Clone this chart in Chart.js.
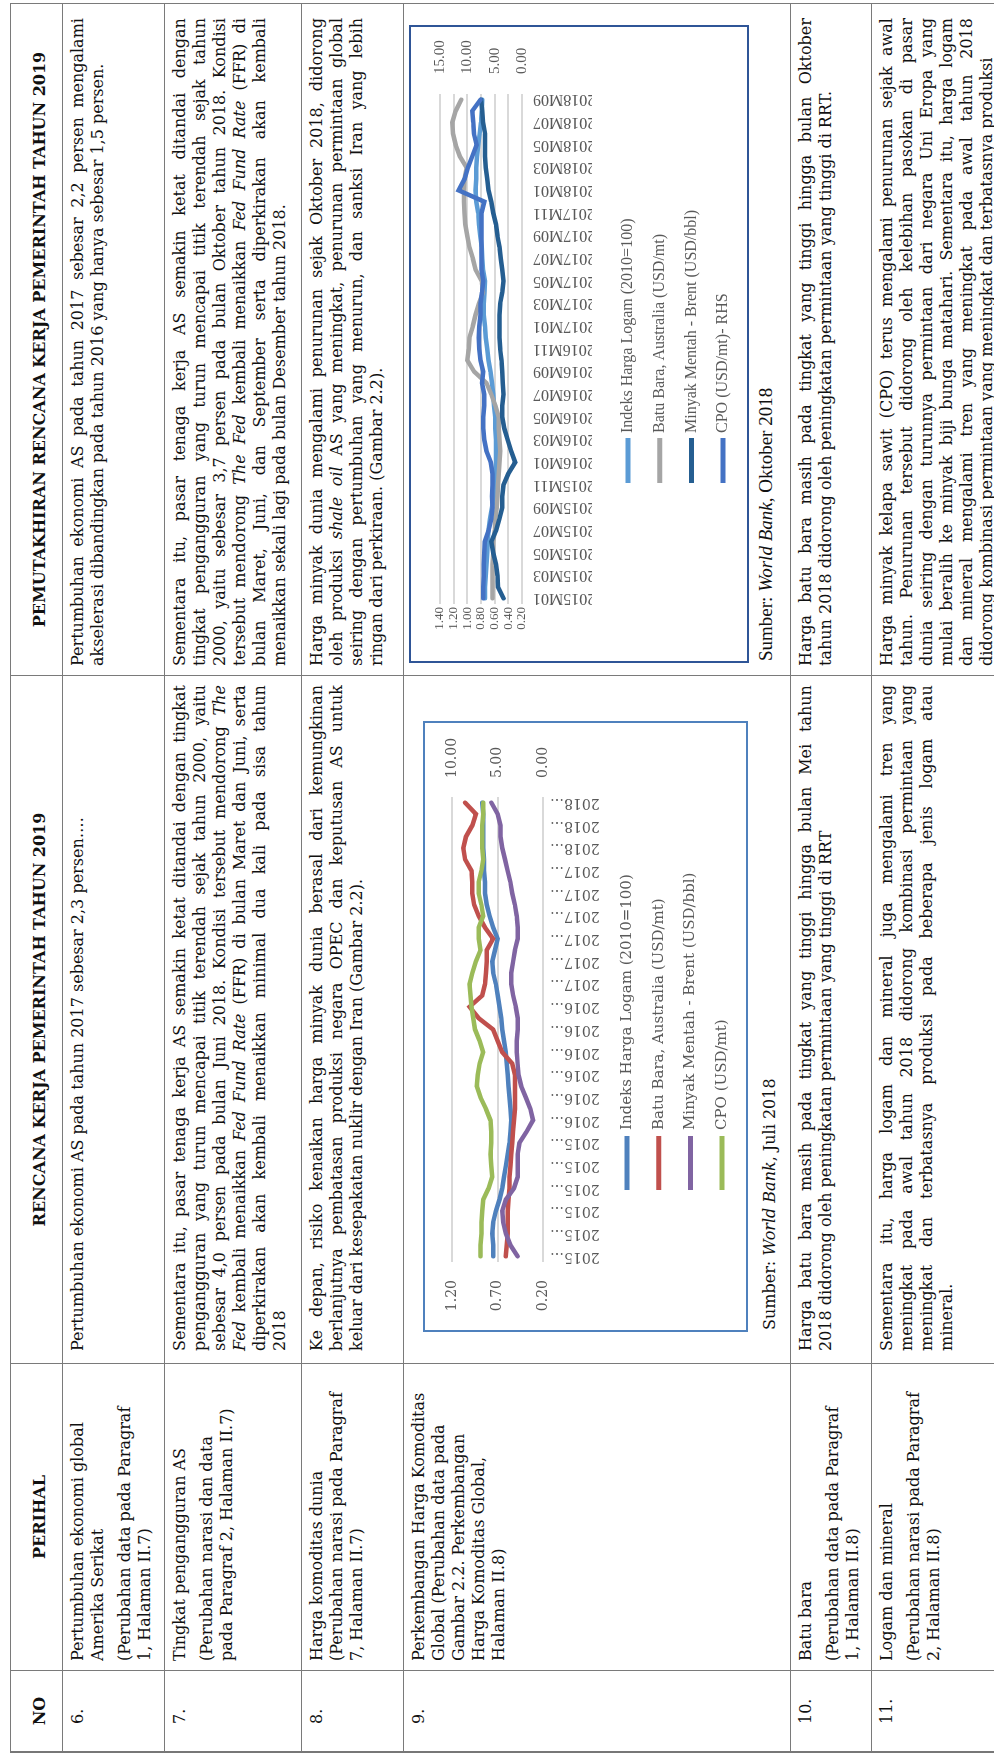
<!DOCTYPE html>
<html>
<head>
<meta charset="utf-8">
<title>Pemutakhiran RKP 2019 - Perkembangan Harga Komoditas Global</title>
<script src="https://cdn.jsdelivr.net/npm/chart.js@4.4.0/dist/chart.umd.min.js"></script>
<style>
    html, body { margin: 0; padding: 0; background: #fff; overflow: hidden; }
    /* landscape page, turned a quarter to fit the portrait sheet */
    #page {
        position: absolute; left: 0; top: 0;
        width: 1756px; height: 994px;
        overflow: hidden;
        transform-origin: 0 0;
        transform: translateY(1756px) rotate(-90deg);
        font-family: "DejaVu Serif", serif;
        font-size: 16px;
        color: #111;
    }
    .cell {
        position: absolute; box-sizing: border-box;
        border-right: 1px solid #7a7a7a; border-bottom: 1px solid #7a7a7a;
        padding-top: 5px; line-height: 20px;
    }
    .first { border-left: 2px solid #777; }
    .top { border-top: 1px solid #7a7a7a; }
    .hd { font-weight: bold; text-align: center; padding-top: 19px; }
    .ln { white-space: nowrap; }
    .ln.j { display: flex; justify-content: space-between; }
    .gap { height: 7px; }
    .frame { position: absolute; box-sizing: border-box; border: 2px solid #4f81bd; background: #fff; }
    .frame canvas { display: block; }
    .src { position: absolute; white-space: nowrap; }
</style>
</head>
<body>
<div id="page">
    <div class="frame" style="left:424px; top:423px; width:611px; height:325px;">
        <canvas id="grafikJuli" width="607" height="321"></canvas>
    </div>
    <div class="src" style="left:426px; top:760px; line-height:20px;">Sumber: <i>World Bank</i>, Juli 2018</div>

    <div class="frame" style="left:1093px; top:409px; width:638px; height:340px; border-color:#2f5597;">
        <canvas id="grafikOktober" width="634" height="336"></canvas>
    </div>
    <div class="src" style="left:1095px; top:754px; line-height:24px; font-family:'Liberation Serif'; font-size:19px;">Sumber: <i>World Bank</i>, Oktober 2018</div>
</div>
<script>
// ---- Gambar 2.2 versi RKP (Juli 2018) ----
const bulanJuli = [
    "2015M01","2015M02","2015M03","2015M04","2015M05","2015M06","2015M07","2015M08","2015M09","2015M10","2015M11","2015M12",
    "2016M01","2016M02","2016M03","2016M04","2016M05","2016M06","2016M07","2016M08","2016M09","2016M10","2016M11","2016M12",
    "2017M01","2017M02","2017M03","2017M04","2017M05","2017M06","2017M07","2017M08","2017M09","2017M10","2017M11","2017M12",
    "2018M01","2018M02","2018M03","2018M04","2018M05"
];
const logamJuli = [0.75,0.75,0.76,0.75,0.72,0.68,0.65,0.63,0.61,0.59,0.57,0.56,0.55,0.56,0.57,0.58,0.59,0.60,0.61,0.63,
    0.65,0.66,0.68,0.70,0.72,0.75,0.76,0.73,0.70,0.75,0.79,0.82,0.84,0.84,0.85,0.85,0.86,0.86,0.86,0.86,0.87];
const batubaraJuli = [0.61,0.60,0.59,0.59,0.59,0.58,0.57,0.57,0.56,0.55,0.54,0.53,0.52,0.51,0.51,0.51,0.51,0.54,0.65,0.70,
    0.75,0.91,1.01,0.87,0.84,0.83,0.82,0.82,0.75,0.84,0.91,0.96,0.98,0.98,0.99,1.06,1.08,1.05,0.98,0.94,1.06];
const minyakJuli = [0.48,0.56,0.61,0.64,0.65,0.61,0.52,0.48,0.48,0.48,0.46,0.38,0.31,0.34,0.39,0.44,0.47,0.48,0.49,0.49,
    0.48,0.48,0.50,0.53,0.55,0.55,0.53,0.51,0.48,0.48,0.49,0.51,0.54,0.56,0.59,0.62,0.65,0.67,0.67,0.70,0.77];
const cpoJuli = [6.9,6.9,6.8,6.8,6.7,6.6,6.0,5.6,5.7,5.8,5.7,5.7,5.8,6.3,6.9,7.3,7.2,7.0,6.6,7.0,
    7.5,7.7,7.9,8.0,8.1,7.8,7.4,6.9,7.1,7.1,6.6,6.8,7.1,7.1,6.8,6.6,6.7,6.7,6.7,6.6,6.6];

// ---- Gambar 2.2 versi pemutakhiran (Oktober 2018) ----
const bulanOktober = [
    "2015M01","2015M02","2015M03","2015M04","2015M05","2015M06","2015M07","2015M08","2015M09","2015M10","2015M11","2015M12",
    "2016M01","2016M02","2016M03","2016M04","2016M05","2016M06","2016M07","2016M08","2016M09","2016M10","2016M11","2016M12",
    "2017M01","2017M02","2017M03","2017M04","2017M05","2017M06","2017M07","2017M08","2017M09","2017M10","2017M11","2017M12",
    "2018M01","2018M02","2018M03","2018M04","2018M05","2018M06","2018M07","2018M08","2018M09"
];
const logamOktober = [0.74,0.74,0.73,0.72,0.71,0.70,0.69,0.67,0.64,0.61,0.59,0.59,0.58,0.58,0.58,0.59,0.59,0.61,0.62,0.64,
    0.66,0.69,0.71,0.73,0.74,0.76,0.76,0.75,0.74,0.77,0.78,0.79,0.81,0.83,0.84,0.87,0.88,0.87,0.87,0.86,
    0.84,0.82,0.80,0.79,0.78];
const batubaraOktober = [0.63,0.63,0.63,0.63,0.62,0.62,0.60,0.59,0.57,0.56,0.55,0.54,0.53,0.52,0.53,0.54,0.54,0.59,0.65,0.72,
    0.90,1.00,0.98,0.97,0.92,0.88,0.83,0.77,0.79,0.88,0.92,0.97,1.00,1.03,1.04,1.05,1.05,1.04,1.01,1.11,
    1.17,1.21,1.22,1.17,1.09];
const minyakOktober = [0.47,0.55,0.56,0.58,0.62,0.65,0.58,0.53,0.49,0.49,0.47,0.40,0.30,0.36,0.41,0.46,0.49,0.49,0.47,0.48,
    0.49,0.50,0.52,0.53,0.53,0.53,0.52,0.49,0.47,0.49,0.51,0.53,0.56,0.58,0.62,0.65,0.69,0.71,0.73,0.74,
    0.74,0.74,0.77,0.78,0.80];
const cpoOktober = [7.1,7.1,7.0,7.0,6.9,6.8,6.1,5.6,5.4,5.5,5.4,5.4,5.7,6.5,6.9,7.1,7.1,6.9,6.9,7.3,
    7.1,7.6,7.8,7.9,7.8,7.6,7.6,7.3,7.1,7.4,7.4,7.4,7.4,7.4,7.4,6.9,11.6,10.5,9.9,9.1,
    8.3,8.8,8.9,9.1,7.6];

// ---- isi tabel ----
const kolom = [3, 86, 393, 1081, 1753];
const baris = [10, 63, 165, 302, 404, 791, 872, 1120];
const judul = ["NO", "PERIHAL", "RENCANA KERJA PEMERINTAH TAHUN 2019", "PEMUTAKHIRAN RENCANA KERJA PEMERINTAH TAHUN 2019"];
const nomor = ["6.", "7.", "8.", "9.", "10.", "11."];
const perihal = [
    [["Pertumbuhan ekonomi global", "Amerika Serikat"], ["(Perubahan data pada Paragraf", "1, Halaman II.7)"]],
    [["Tingkat pengangguran AS"], ["(Perubahan narasi dan data", "pada Paragraf 2, Halaman II.7)"]],
    [["Harga komoditas dunia", "(Perubahan narasi pada Paragraf", "7, Halaman II.7)"]],
    [["Perkembangan Harga Komoditas", "Global (Perubahan data pada", "Gambar 2.2. Perkembangan", "Harga Komoditas Global,", "Halaman II.8)"]],
    [["Batu bara"], ["(Perubahan data pada Paragraf", "1, Halaman II.8)"]],
    [["Logam dan mineral"], ["(Perubahan narasi pada Paragraf", "2, Halaman II.8)"]]
];
const rkp = [
    ["Pertumbuhan ekonomi AS pada tahun 2017 sebesar 2,3 persen…."],
    ["Sementara itu, pasar tenaga kerja AS semakin ketat ditandai dengan tingkat",
     "pengangguran yang turun mencapai titik terendah sejak tahun 2000, yaitu",
     "sebesar 4,0 persen pada bulan Juni 2018. Kondisi tersebut mendorong _The_",
     "_Fed_ kembali menaikkan _Fed_ _Fund_ _Rate_ (FFR) di bulan Maret dan Juni, serta",
     "diperkirakan akan kembali menaikkan minimal dua kali pada sisa tahun",
     "2018"],
    ["Ke depan, risiko kenaikan harga minyak dunia berasal dari kemungkinan",
     "berlanjutnya pembatasan produksi negara OPEC dan keputusan AS untuk",
     "keluar dari kesepakatan nuklir dengan Iran (Gambar 2.2)."],
    [],
    ["Harga batu bara masih pada tingkat yang tinggi hingga bulan Mei tahun",
     "2018 didorong oleh peningkatan permintaan yang tinggi di RRT"],
    ["Sementara itu, harga logam dan mineral juga mengalami tren yang",
     "meningkat pada awal tahun 2018 didorong kombinasi permintaan yang",
     "meningkat dan terbatasnya produksi pada beberapa jenis logam atau",
     "mineral."]
];
const pemutakhiran = [
    ["Pertumbuhan ekonomi AS pada tahun 2017 sebesar 2,2 persen mengalami",
     "akselerasi dibandingkan pada tahun 2016 yang hanya sebesar 1,5 persen."],
    ["Sementara itu, pasar tenaga kerja AS semakin ketat ditandai dengan",
     "tingkat pengangguran yang turun mencapai titik terendah sejak tahun",
     "2000, yaitu sebesar 3,7 persen pada bulan Oktober tahun 2018. Kondisi",
     "tersebut mendorong _The_ _Fed_ kembali menaikkan _Fed_ _Fund_ _Rate_ (FFR) di",
     "bulan Maret, Juni, dan September serta diperkirakan akan kembali",
     "menaikkan sekali lagi pada bulan Desember tahun 2018."],
    ["Harga minyak dunia mengalami penurunan sejak Oktober 2018, didorong",
     "oleh produksi _shale_ _oil_ AS yang meningkat, penurunan permintaan global",
     "seiring dengan pertumbuhan yang menurun, dan sanksi Iran yang lebih",
     "ringan dari perkiraan. (Gambar 2.2)."],
    [],
    ["Harga batu bara masih pada tingkat yang tinggi hingga bulan Oktober",
     "tahun 2018 didorong oleh peningkatan permintaan yang tinggi di RRT."],
    ["Harga minyak kelapa sawit (CPO) terus mengalami penurunan sejak awal",
     "tahun. Penurunan tersebut didorong oleh kelebihan pasokan di pasar",
     "dunia seiring dengan turunnya permintaan dari negara Uni Eropa yang",
     "mulai beralih ke minyak biji bunga matahari. Sementara itu, harga logam",
     "dan mineral mengalami tren yang meningkat pada awal tahun 2018",
     "didorong kombinasi permintaan yang meningkat dan terbatasnya produksi"]
];

const page = document.getElementById('page');

function words(line) {
    return line.split(' ').map(w => /^_.+_$/.test(w) ? '<i>' + w.slice(1, -1) + '</i>' : w);
}

function lines(list, justify) {
    return list.map((l, k) => {
        const w = words(l);
        if (justify && k < list.length - 1)
            return '<div class="ln j">' + w.map(x => '<span>' + x + '</span>').join('') + '</div>';
        return '<div class="ln">' + w.join(' ') + '</div>';
    }).join('');
}

function addCell(c, r, html, cls, pad) {
    const d = document.createElement('div');
    d.className = 'cell ' + (cls || '') + (c === 0 ? ' first' : '') + (r === 0 ? ' top' : '');
    d.style.left = kolom[c] + 'px';
    d.style.top = baris[r] + 'px';
    d.style.width = (kolom[c + 1] - kolom[c]) + 'px';
    d.style.height = (baris[r + 1] - baris[r]) + 'px';
    if (pad) { d.style.paddingLeft = pad[0] + 'px'; d.style.paddingRight = pad[1] + 'px'; }
    d.innerHTML = html;
    page.insertBefore(d, page.firstChild);
}

judul.forEach((t, c) => addCell(c, 0, t, 'hd'));
for (let r = 0; r < nomor.length; r++) {
    addCell(0, r + 1, nomor[r], '', [27, 0]);
    addCell(1, r + 1, perihal[r].map(p => lines(p, false)).join('<div class="gap"></div>'), '', [9, 6]);
    addCell(2, r + 1, lines(rkp[r], true), '', [12, 9]);
    addCell(3, r + 1, lines(pemutakhiran[r], true), '', [9, 14]);
}

// legenda bertumpuk di bawah sumbu kategori
const stackLegend = {
    id: 'stackLegend',
    afterDraw(chart, args, opts) {
        const ctx = chart.ctx;
        ctx.save();
        ctx.font = opts.font;
        ctx.textBaseline = 'middle';
        chart.data.datasets.forEach((ds, i) => {
            const y = opts.top + i * opts.step;
            ctx.strokeStyle = ds.borderColor;
            ctx.lineWidth = opts.lineWidth;
            ctx.beginPath();
            ctx.moveTo(opts.left, y);
            ctx.lineTo(opts.left + opts.length, y);
            ctx.stroke();
            ctx.fillStyle = opts.color;
            ctx.fillText(ds.label, opts.left + opts.length + opts.gap, y);
        });
        ctx.restore();
    }
};

const abu = '#595959';

new Chart(document.getElementById('grafikJuli'), {
    type: 'line',
    data: {
        labels: bulanJuli,
        datasets: [
            { label: 'Indeks Harga Logam (2010=100)', data: logamJuli, borderColor: '#4f81bd', yAxisID: 'y', order: 4 },
            { label: 'Batu Bara, Australia (USD/mt)', data: batubaraJuli, borderColor: '#c0504d', yAxisID: 'y', order: 3 },
            { label: 'Minyak Mentah - Brent (USD/bbl)', data: minyakJuli, borderColor: '#8064a2', yAxisID: 'y', order: 2 },
            { label: 'CPO (USD/mt)', data: cpoJuli, borderColor: '#9bbb59', yAxisID: 'y2', order: 1 }
        ]
    },
    options: {
        responsive: false,
        animation: false,
        events: [],
        font: { family: 'DejaVu Serif' },
        elements: { line: { borderWidth: 4.5, tension: 0, borderCapStyle: 'round' }, point: { radius: 0 } },
        layout: { padding: { top: 22, bottom: 143, left: 0, right: 0 } },
        plugins: {
            legend: { display: false },
            tooltip: { enabled: false },
            stackLegend: { left: 140, top: 202, step: 31.7, length: 54, gap: 6, lineWidth: 5,
                font: '15px "DejaVu Serif"', color: abu }
        },
        scales: {
            x: {
                offset: true,
                grid: { display: false, drawTicks: false },
                border: { display: false },
                ticks: {
                    autoSkip: false, minRotation: 90, maxRotation: 90, padding: 7, color: abu,
                    font: { family: 'DejaVu Serif', size: 14 },
                    callback: (v, i) => i % 2 ? '' : bulanJuli[i].slice(0, 4) + '…'
                },
                afterFit: s => { s.height = 60; }
            },
            y: {
                position: 'left', min: 0.2, max: 1.2,
                grid: { color: '#d9d9d9', lineWidth: 2, drawTicks: false },
                border: { display: false },
                ticks: { stepSize: 0.5, autoSkip: false, padding: 18, color: abu,
                    font: { family: 'DejaVu Serif', size: 14 }, callback: v => v.toFixed(2) },
                afterFit: s => { s.width = 68; }
            },
            y2: {
                position: 'right', min: 0, max: 10,
                grid: { display: false, drawTicks: false },
                border: { display: false },
                ticks: { stepSize: 5, autoSkip: false, padding: 19, color: abu,
                    font: { family: 'DejaVu Serif', size: 14 }, callback: v => v.toFixed(2) },
                afterFit: s => { s.width = 74; }
            }
        }
    },
    plugins: [stackLegend]
});

new Chart(document.getElementById('grafikOktober'), {
    type: 'line',
    data: {
        labels: bulanOktober,
        datasets: [
            { label: 'Indeks Harga Logam (2010=100)', data: logamOktober, borderColor: '#5b9bd5', yAxisID: 'y', order: 4 },
            { label: 'Batu Bara, Australia (USD/mt)', data: batubaraOktober, borderColor: '#a5a5a5', yAxisID: 'y', order: 3 },
            { label: 'Minyak Mentah - Brent (USD/bbl)', data: minyakOktober, borderColor: '#255e91', yAxisID: 'y', order: 2 },
            { label: 'CPO (USD/mt)- RHS', data: cpoOktober, borderColor: '#4472c4', yAxisID: 'y2', order: 1 }
        ]
    },
    options: {
        responsive: false,
        animation: false,
        events: [],
        elements: { line: { borderWidth: 4.5, tension: 0, borderCapStyle: 'round' }, point: { radius: 0 } },
        layout: { padding: { top: 22, bottom: 155, left: 0, right: 0 } },
        plugins: {
            legend: { display: false },
            tooltip: { enabled: false },
            stackLegend: { left: 178, top: 217, step: 31.7, length: 45, gap: 5, lineWidth: 5,
                font: '16px "Liberation Serif"', color: abu }
        },
        scales: {
            x: {
                offset: true,
                grid: { display: false, drawTicks: false },
                border: { display: false },
                ticks: {
                    autoSkip: false, minRotation: 90, maxRotation: 90, padding: 11, color: abu,
                    font: { family: 'Liberation Serif', size: 16 },
                    callback: (v, i) => i % 2 ? '' : bulanOktober[i]
                },
                afterFit: s => { s.height = 70; }
            },
            y: {
                position: 'left', min: 0.2, max: 1.4,
                grid: { color: '#d9d9d9', lineWidth: 2, drawTicks: false },
                border: { display: false },
                ticks: { stepSize: 0.2, autoSkip: false, padding: 3, color: abu,
                    font: { family: 'Liberation Serif', size: 13 }, callback: v => v.toFixed(2) },
                afterFit: s => { s.width = 57; }
            },
            y2: {
                position: 'right', min: 0, max: 15,
                grid: { display: false, drawTicks: false },
                border: { display: false },
                ticks: { stepSize: 5, autoSkip: false, padding: 20, color: abu,
                    font: { family: 'Liberation Serif', size: 15 }, callback: v => v.toFixed(2) },
                afterFit: s => { s.width = 67; }
            }
        }
    },
    plugins: [stackLegend]
});
</script>
</body>
</html>
